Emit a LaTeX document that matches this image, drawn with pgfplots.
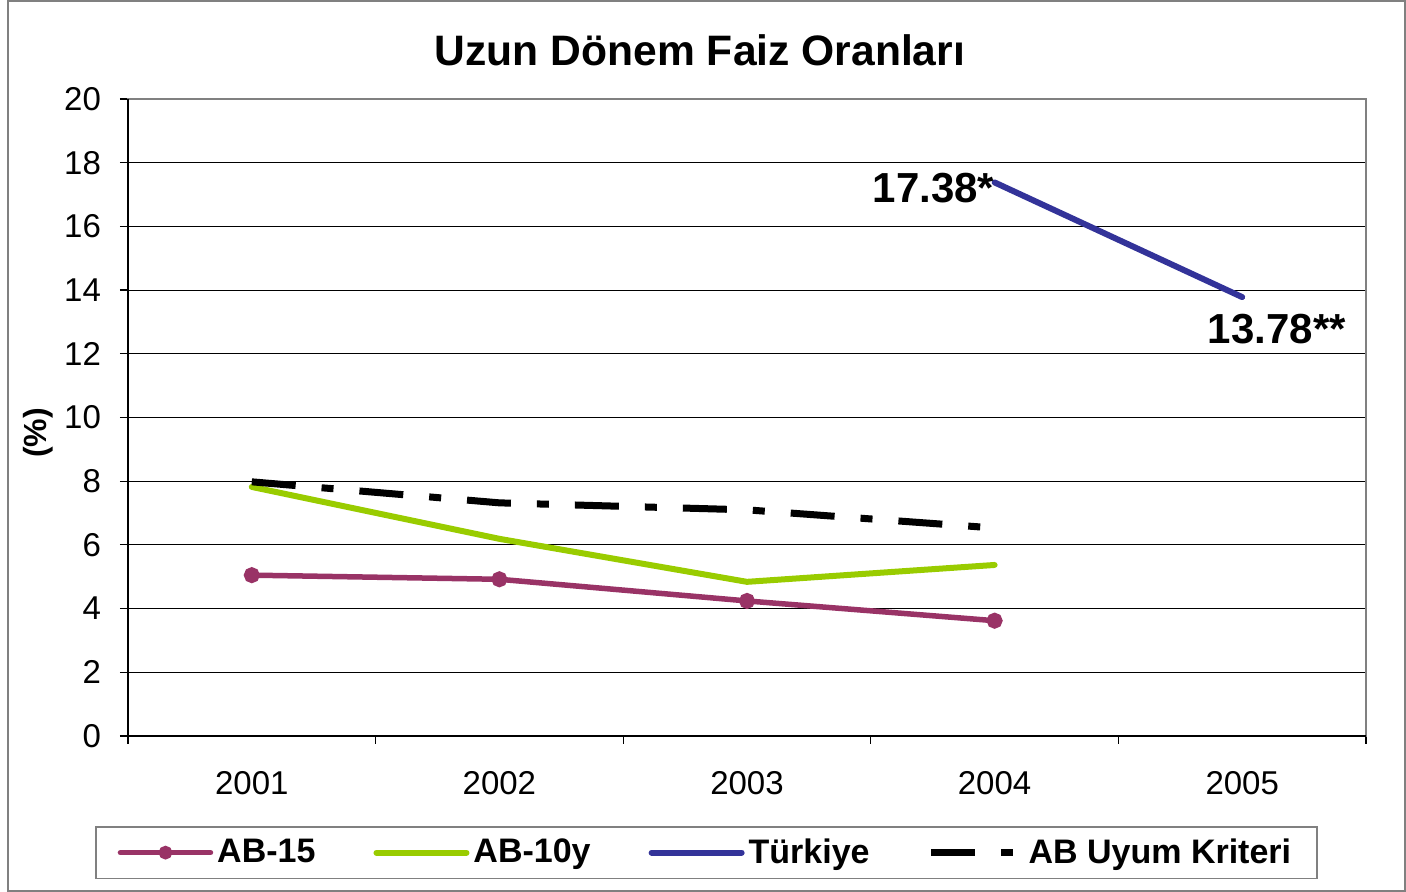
\documentclass[border=0pt]{standalone}
\usepackage{fontspec}
\setmainfont{Liberation Sans}
\usepackage{pgfplots}
\pgfplotsset{compat=1.18}

\definecolor{abplum}{HTML}{993366}
\definecolor{abgreen}{HTML}{99CC00}
\definecolor{trblue}{HTML}{333399}
\definecolor{framegray}{HTML}{808080}

\begin{document}
\begin{tikzpicture}
\begin{axis}[
  name=ax,
  scale only axis,
  width=619pt, height=318.5pt,
  xmin=0.5, xmax=5.5, ymin=0, ymax=20,
  clip=false,
  /pgf/number format/assume math mode=true,
  ytick={0,2,...,20},
  xtick={0.5,1.5,2.5,3.5,4.5,5.5},
  xticklabels={2001,2002,2003,2004,2005},
  x tick label as interval,
  tick pos=left,
  tick align=outside,
  major tick length=4pt,
  tick style={black, line width=0.6pt},
  ymajorgrids,
  major grid style={black, line width=0.5pt},
  axis line style={framegray, line width=0.8pt},
  ticklabel style={font=\fontsize{16.5}{18}\selectfont},
  xticklabel style={yshift=-10pt},
  yticklabel style={xshift=-6pt},
  title={\textbf{Uzun Dönem Faiz Oranları}},
  title style={at={(axis description cs:0.462,1.058)}, anchor=center, font=\fontsize{21.3}{24}\selectfont},
  ylabel={\textbf{(\%)}},
  ylabel style={at={(axis description cs:-0.0727,0.476)}, anchor=center, font=\fontsize{16}{18}\selectfont},
  legend columns=4,
  legend style={at={(axis description cs:-0.0267,-0.1413)}, anchor=north west,
    draw=framegray, line width=0.8pt, inner xsep=11pt, inner ysep=4pt,
    font=\fontsize{17}{19}\selectfont\bfseries,
    /tikz/every even column/.append style={column sep=27pt}},
  legend image code/.code={%
    \draw[mark repeat=2, mark phase=2, mark size=2pt, #1] plot coordinates {(0pt,0pt) (22.5pt,0pt) (45pt,0pt)};},
]
\addplot[abplum, line width=2.75pt, line cap=round, mark=*, mark size=2.6pt]
  coordinates {(1,5.05) (2,4.92) (3,4.24) (4,3.62)};
\addlegendentry{AB-15}
\addplot[abgreen, line width=3pt, line cap=round, no marks]
  coordinates {(1,7.82) (2,6.19) (3,4.84) (4,5.37)};
\addlegendentry{AB-10y}
\addplot[trblue, line width=3pt, line cap=round, no marks]
  coordinates {(4,17.38) (5,13.78)};
\addlegendentry{Türkiye}
\addplot[black, line width=3.5pt, no marks, dash pattern=on 22pt off 13pt on 6pt off 13pt]
  coordinates {(1,7.98) (2,7.32) (3,7.10) (4,6.53)};
\addlegendentry{AB Uyum Kriteri}

\node[anchor=east, font=\fontsize{21}{24}\selectfont\bfseries, inner sep=0pt] at (axis cs:4.0,17.2) {17.38*};
\node[anchor=west, font=\fontsize{21}{24}\selectfont\bfseries, inner sep=0pt] at (axis cs:4.86,12.78) {13.78**};
\end{axis}
\draw[black, line width=0.8pt] (ax.north west) -- (ax.south west) -- (ax.south east);
\draw[framegray, line width=1pt] ([shift={(-60pt,-77.5pt)}]ax.south west) rectangle ([shift={(638.5pt,367.5pt)}]ax.south west);
\path ([shift={(-64pt,-78pt)}]ax.south west) rectangle ([shift={(639pt,368pt)}]ax.south west);
\end{tikzpicture}
\end{document}
